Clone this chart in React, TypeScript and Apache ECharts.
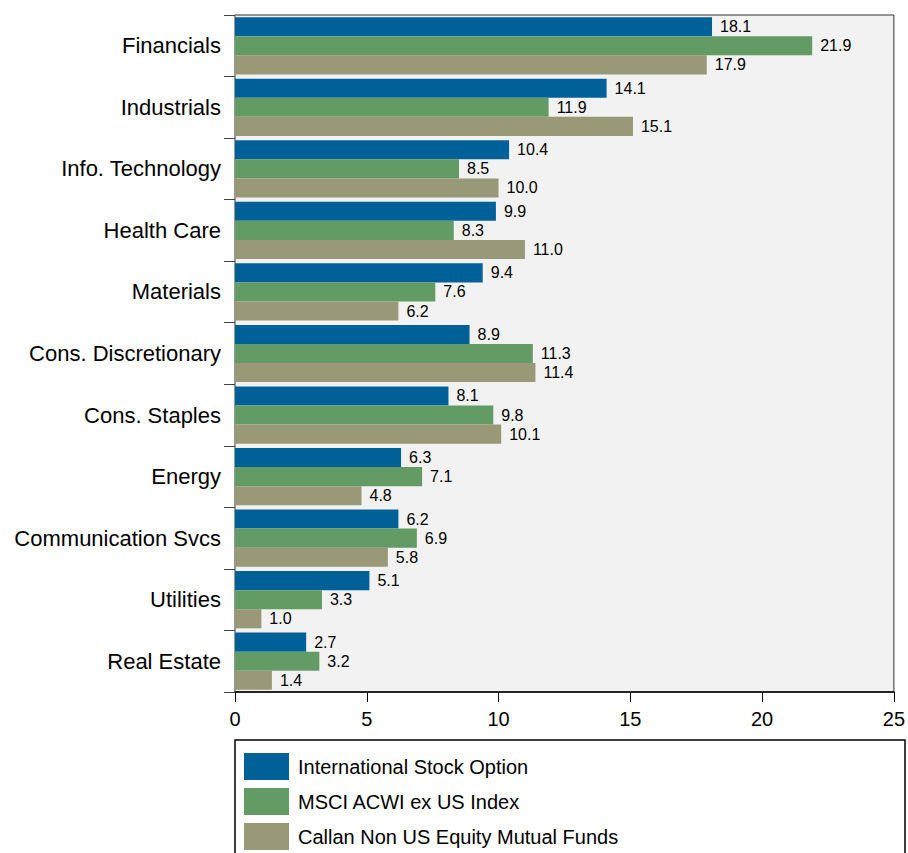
import React, { useEffect, useRef } from "react";
import * as echarts from "echarts";

const categories = [
  "Financials",
  "Industrials",
  "Info. Technology",
  "Health Care",
  "Materials",
  "Cons. Discretionary",
  "Cons. Staples",
  "Energy",
  "Communication Svcs",
  "Utilities",
  "Real Estate",
];
const seriesNames = [
  "International Stock Option",
  "MSCI ACWI ex US Index",
  "Callan Non US Equity Mutual Funds",
];
const intlStock = [18.1, 14.1, 10.4, 9.9, 9.4, 8.9, 8.1, 6.3, 6.2, 5.1, 2.7];
const msciAcwi = [21.9, 11.9, 8.5, 8.3, 7.6, 11.3, 9.8, 7.1, 6.9, 3.3, 3.2];
const callanFunds = [17.9, 15.1, 10.0, 11.0, 6.2, 11.4, 10.1, 4.8, 5.8, 1.0, 1.4];
const colors = ["#006199", "#629b64", "#999877"];

const FONT = "'Liberation Sans', Arial, sans-serif";

export default function App() {
  const ref = useRef<HTMLDivElement>(null);
  useEffect(() => {
    if (!ref.current) return;
    const chart = echarts.init(ref.current, undefined, { renderer: "svg" });
    const mk = (name: string, data: number[], color: string) => ({
      name,
      type: "bar",
      data,
      itemStyle: { color },
      barGap: "0%",
      barCategoryGap: "7%",
      label: {
        show: true,
        position: "right",
        distance: 8,
        fontSize: 16,
        color: "#000",
        fontFamily: FONT,
        formatter: (p: any) => Number(p.value).toFixed(1),
      },
    });
    chart.setOption({
      animation: false,
      textStyle: { fontFamily: FONT },
      grid: {
        left: 235,
        top: 15,
        right: 13,
        bottom: 161,
        show: true,
        backgroundColor: "#f2f2f2",
        borderColor: "#333",
        borderWidth: 1,
      },
      xAxis: {
        type: "value",
        min: 0,
        max: 25,
        interval: 5,
        splitLine: { show: false },
        axisLine: { show: true, lineStyle: { color: "#000", width: 1.5 } },
        axisTick: { show: true, length: 10, lineStyle: { color: "#000" } },
        axisLabel: { fontSize: 20, color: "#000", margin: 17, fontFamily: FONT },
      },
      yAxis: {
        type: "category",
        inverse: true,
        data: categories,
        axisLine: { show: true, lineStyle: { color: "#999", width: 1.5 } },
        axisTick: { show: true, length: 11, lineStyle: { color: "#444" } },
        axisLabel: {
          fontSize: 22,
          color: "#000",
          margin: 14,
          fontFamily: FONT,
          padding: [3, 0, 0, 0],
        },
      },
      legend: {
        orient: "vertical",
        left: 244,
        top: 753,
        itemWidth: 45,
        itemHeight: 27,
        itemGap: 8,
        icon: "rect",
        padding: 0,
        textStyle: { fontSize: 20, color: "#000", fontFamily: FONT, padding: [3, 0, 0, 4] },
        data: seriesNames,
      },
      graphic: [
        {
          type: "rect",
          shape: { x: 235, y: 740, width: 670, height: 130 },
          style: { fill: "none", stroke: "#000", lineWidth: 1.5 },
          silent: true,
        },
      ],
      series: [
        mk(seriesNames[0], intlStock, colors[0]),
        mk(seriesNames[1], msciAcwi, colors[1]),
        mk(seriesNames[2], callanFunds, colors[2]),
      ],
    });
    return () => chart.dispose();
  }, []);
  return <div ref={ref} style={{ width: 908, height: 853, position: "absolute", left: 0, top: 0 }} />;
}
